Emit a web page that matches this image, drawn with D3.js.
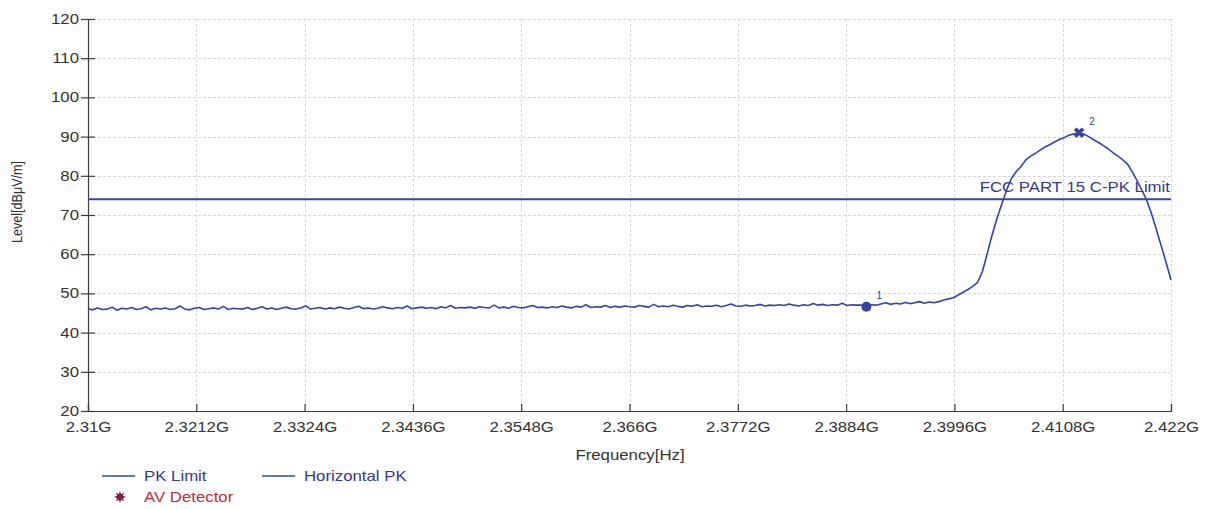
<!DOCTYPE html>
<html>
<head>
<meta charset="utf-8">
<script src="https://cdn.jsdelivr.net/npm/d3@7"></script>
<style>
  body { margin: 0; background: #fff; }
  svg { display: block; }
  text { font-family: "Liberation Sans", Arial, sans-serif; }
</style>
</head>
<body>
<svg id="chart" width="1210" height="509"></svg>
<script>
// Sweep grid: 2.310 GHz to 2.422 GHz in 0.5 MHz steps
const sweepStart = 2.310;
const sweepStep = 0.0005;

// Horizontal PK trace, dBµV/m, one value per sweep step
const levels = [
  46.1,45.8,46.3,45.9,46.0,46.5,45.7,46.2,46.0,46.4,45.9,46.1,46.6,45.8,46.2,46.0,
  46.3,45.9,46.1,46.8,46.0,45.8,46.2,46.4,45.9,46.1,46.3,46.0,46.7,45.9,46.2,46.1,
  46.0,46.4,45.9,46.2,46.6,46.0,46.3,45.9,46.2,46.5,46.1,46.0,46.3,46.8,46.0,46.2,
  46.4,46.0,46.3,46.1,46.5,46.2,46.0,46.4,46.7,46.1,46.3,46.0,46.2,46.6,46.3,46.1,
  46.4,46.2,46.8,46.1,46.3,46.5,46.2,46.4,46.1,46.6,46.3,46.9,46.2,46.4,46.3,46.5,
  46.2,46.6,46.4,46.3,47.0,46.3,46.5,46.2,46.7,46.4,46.3,46.6,46.9,46.4,46.5,46.3,
  46.6,46.4,46.8,46.5,46.3,46.7,46.5,47.1,46.4,46.6,46.5,46.9,46.4,46.7,46.5,46.8,
  46.6,46.5,46.9,46.7,46.5,47.2,46.6,46.8,46.6,47.0,46.7,46.5,46.9,46.7,47.1,46.6,
  46.8,46.7,47.0,46.6,46.9,47.3,46.8,46.7,47.0,46.8,46.9,47.2,46.8,47.0,46.9,47.1,
  46.9,47.3,47.0,46.8,47.1,46.9,47.4,47.0,47.2,46.9,47.1,47.0,47.5,46.9,47.1,47.0,
  47.0,46.6,47.1,47.0,47.3,47.6,47.2,47.5,47.3,47.7,47.4,47.6,47.9,47.5,47.8,47.6,
  47.9,48.3,48.6,48.9,49.6,50.3,51.0,51.8,52.8,55.6,60.2,64.9,69.1,72.8,76.4,
  79.3,81.1,82.4,84.1,85.0,85.8,86.6,87.4,88.0,88.7,89.3,89.8,90.4,90.7,91.0,
  90.6,90.0,89.2,88.5,87.7,86.9,85.9,85.0,84.1,83.0,
  81.0,78.7,76.3,73.7,70.2,66.2,62.0,57.8,53.4
];

// FCC Part 15 C peak limit
const pkLimit = 74;
const pkLimitLabel = "FCC PART 15 C-PK Limit";

// Markers placed on the trace
const markerIds = ["1", "2"];
const markerFreqs = [2.3905, 2.4125];
const markerLevels = [46.6, 91.0];

// Axis ticks
const freqTicks = [2.31, 2.3212, 2.3324, 2.3436, 2.3548, 2.366, 2.3772, 2.3884, 2.3996, 2.4108, 2.422];
const freqTickLabels = ["2.31G", "2.3212G", "2.3324G", "2.3436G", "2.3548G", "2.366G", "2.3772G", "2.3884G", "2.3996G", "2.4108G", "2.422G"];
const levelTicks = [20, 30, 40, 50, 60, 70, 80, 90, 100, 110, 120];

// Legend entries
const legendNames = ["PK Limit", "Horizontal PK", "AV Detector"];

const blue = "#3444a6";
const textBlue = "#35388f";
const axisGrey = "#3c3c3c";
const labelGrey = "#333";
const FS = 14;   // base font size
const SX = 1.2;  // horizontal text stretch

const svg = d3.select("#chart");
const x = d3.scaleLinear().domain([2.31, 2.422]).range([88, 1171]);
const y = d3.scaleLinear().domain([20, 120]).range([411, 19]);

// Grid
const grid = svg.append("g").attr("stroke", "#d6d6d6").attr("stroke-dasharray", "3,2").attr("stroke-width", 1);
grid.selectAll("line.h").data(levelTicks.slice(1)).join("line")
  .attr("x1", x(2.31)).attr("x2", x(2.422))
  .attr("y1", d => Math.round(y(d)) + 0.5).attr("y2", d => Math.round(y(d)) + 0.5);
grid.selectAll("line.v").data(freqTicks.slice(1)).join("line")
  .attr("y1", y(120)).attr("y2", y(20))
  .attr("x1", d => Math.round(x(d)) + 0.5).attr("x2", d => Math.round(x(d)) + 0.5);

// Y axis
const yAxis = svg.append("g").attr("transform", `translate(${x(2.31)},0)`)
  .call(d3.axisLeft(y).tickValues(levelTicks).tickSize(7).tickPadding(9));
yAxis.select(".domain").attr("stroke", axisGrey).attr("stroke-width", 1.2);
yAxis.selectAll(".tick line").attr("x1", -7).attr("x2", 7).attr("stroke", axisGrey).attr("stroke-width", 1.2);
yAxis.selectAll(".tick text")
  .attr("x", -9 / SX).attr("transform", `scale(${SX},1)`)
  .attr("fill", labelGrey).style("font-size", FS + "px");

// X axis
const xAxis = svg.append("g").attr("transform", `translate(0,${y(20)})`)
  .call(d3.axisBottom(x).tickValues(freqTicks).tickFormat((d, i) => freqTickLabels[i]).tickSize(-7));
xAxis.select(".domain").attr("stroke", axisGrey).attr("stroke-width", 1.2);
xAxis.selectAll(".tick line").attr("stroke", axisGrey).attr("stroke-width", 1.2);
xAxis.selectAll(".tick text")
  .attr("y", 21).attr("dy", null).attr("transform", `scale(${SX},1)`)
  .attr("fill", labelGrey).style("font-size", FS + "px");

function label(txt, px, py, opts = {}) {
  return svg.append("text")
    .attr("transform", `translate(${px},${py}) scale(${SX},1)`)
    .attr("text-anchor", opts.anchor || "start")
    .attr("fill", opts.fill || labelGrey)
    .style("font-size", (opts.size || FS) + "px")
    .text(txt);
}

// Axis titles
label("Frequency[Hz]", 630, 460, { anchor: "middle" });
svg.append("text")
  .attr("transform", `translate(22,202) rotate(-90) scale(1,${SX})`)
  .attr("text-anchor", "middle").attr("fill", labelGrey)
  .style("font-size", "12.6px").text("Level[dBμV/m]");

// Limit line
svg.append("line")
  .attr("x1", x(2.31)).attr("x2", x(2.422))
  .attr("y1", y(pkLimit)).attr("y2", y(pkLimit))
  .attr("stroke", blue).attr("stroke-width", 2);
label(pkLimitLabel, x(2.422) - 1, 192, { anchor: "end", fill: textBlue });

// Trace
const line = d3.line()
  .x((d, i) => x(sweepStart + i * sweepStep))
  .y(d => y(d));
svg.append("path").datum(levels)
  .attr("d", line).attr("fill", "none")
  .attr("stroke", blue).attr("stroke-width", 1.6).attr("stroke-linejoin", "round");

// Markers
const mk = svg.append("g");
mk.append("circle")
  .attr("cx", x(markerFreqs[0])).attr("cy", y(markerLevels[0])).attr("r", 5)
  .attr("fill", blue);
mk.append("path")
  .attr("d", d3.symbol(d3.symbolCross, 70)())
  .attr("transform", `translate(${x(markerFreqs[1])},${y(markerLevels[1])}) rotate(45)`)
  .attr("fill", blue);
markerIds.forEach((id, i) => {
  svg.append("text")
    .attr("x", x(markerFreqs[i]) + 10).attr("y", y(markerLevels[i]) - 8)
    .attr("fill", textBlue).style("font-size", "10px").text(id);
});

// Legend
const lg = svg.append("g");
[[102, 135, 144], [262, 295, 304]].forEach(([a, b, t], i) => {
  lg.append("line").attr("x1", a).attr("x2", b).attr("y1", 476).attr("y2", 476)
    .attr("stroke", blue).attr("stroke-width", 1.6);
  label(legendNames[i], t, 481, { fill: textBlue });
});
// AV detector burst symbol
const burst = [];
for (let k = 0; k < 16; k++) {
  const r = k % 2 === 0 ? 6 : 3;
  const a = k * Math.PI / 8;
  burst.push([a, r]);
}
lg.append("path")
  .attr("d", d3.lineRadial().curve(d3.curveLinearClosed)(burst))
  .attr("transform", "translate(120,497)")
  .attr("fill", "#8a1a3c");
label(legendNames[2], 144, 502, { fill: "#c42a3c" });
</script>
</body>
</html>
